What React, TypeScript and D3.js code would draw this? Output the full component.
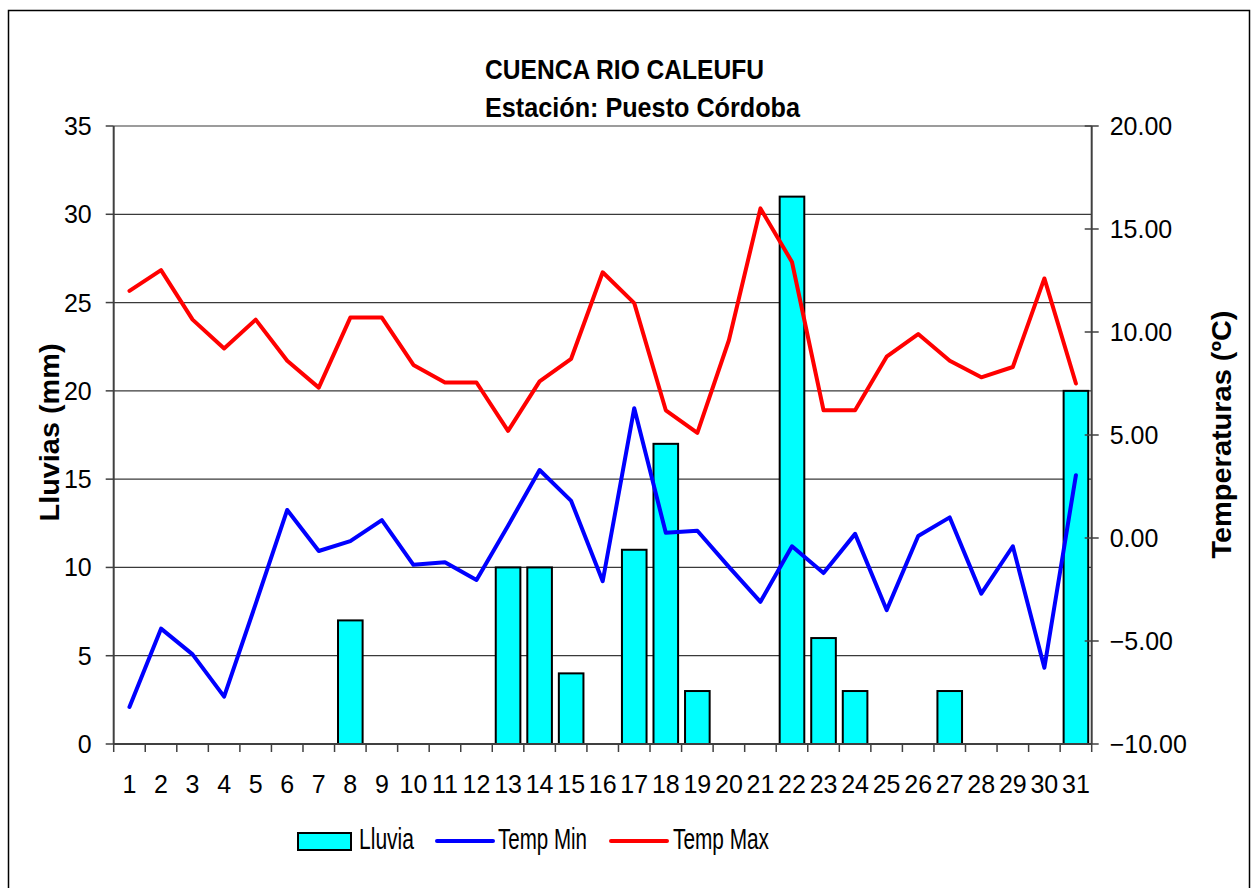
import React, { useEffect, useRef } from "react";
import * as d3 from "d3";

// Data
const dias = ["1","2","3","4","5","6","7","8","9","10","11","12","13","14","15","16","17","18","19","20","21","22","23","24","25","26","27","28","29","30","31"];
const lluvia = [0,0,0,0,0,0,0,7,0,0,0,0,10,10,4,0,11,17,3,0,0,31,6,3,0,0,3,0,0,0,20];
const tempMin = [-8.2,-4.4,-5.65,-7.7,-3.2,1.36,-0.63,-0.15,0.87,-1.3,-1.18,-2.04,0.6,3.3,1.8,-2.1,6.3,0.25,0.35,-1.4,-3.1,-0.4,-1.7,0.2,-3.5,0.1,1.0,-2.7,-0.4,-6.3,3.05];
const tempMax = [12.0,13.0,10.6,9.2,10.6,8.6,7.3,10.7,10.7,8.4,7.55,7.55,5.2,7.6,8.7,12.9,11.4,6.2,5.1,9.6,16.0,13.4,6.2,6.2,8.8,9.9,8.6,7.8,8.3,12.6,7.5];
const lluviaTicks = [0,5,10,15,20,25,30,35];
const tempTicks = [-10,-5,0,5,10,15,20];

const FONT = "'Liberation Sans', Arial, sans-serif";

const App = () => {
  const svgRef = useRef(null);

  useEffect(() => {
    const width = 1254;
    const height = 888;
    const m = { left: 113.7, right: 1091.7, top: 126, bottom: 744 };

    const svg = d3.select(svgRef.current);
    svg.selectAll("*").remove();

    svg.append("rect").attr("width", width).attr("height", height).attr("fill", "#fff");
    // chart frame (runs off the bottom edge)
    svg.append("rect")
      .attr("x", 8.5).attr("y", 10.5).attr("width", 1241).attr("height", 900)
      .attr("fill", "none").attr("stroke", "#000").attr("stroke-width", 1.5);

    // scales
    const x = d3.scaleBand().domain(dias).range([m.left, m.right]).paddingInner(0.22).paddingOuter(0.11);
    const xEdge = d3.scaleLinear().domain([0, dias.length]).range([m.left, m.right]);
    const yL = d3.scaleLinear().domain([0, 35]).range([m.bottom, m.top]);
    const yR = d3.scaleLinear().domain([-10, 20]).range([m.bottom, m.top]);
    const cx = (d) => x(d) + x.bandwidth() / 2;

    // titles
    svg.append("text").text("CUENCA RIO CALEUFU")
      .attr("x", 485).attr("y", 79).attr("font-family", FONT).attr("font-weight", "bold")
      .attr("font-size", 28).attr("textLength", 279).attr("lengthAdjust", "spacingAndGlyphs");
    svg.append("text").text("Estación: Puesto Córdoba")
      .attr("x", 485).attr("y", 117).attr("font-family", FONT).attr("font-weight", "bold")
      .attr("font-size", 28).attr("textLength", 315).attr("lengthAdjust", "spacingAndGlyphs");

    // gridlines
    svg.append("g").selectAll("line").data(lluviaTicks.filter((v) => v > 0)).join("line")
      .attr("x1", m.left).attr("x2", m.right)
      .attr("y1", (d) => yL(d)).attr("y2", (d) => yL(d))
      .attr("stroke", "#3a3a3a").attr("stroke-width", 1.2);

    // bars
    svg.append("g").selectAll("rect").data(lluvia.map((v, i) => ({ d: dias[i], v })).filter((r) => r.v > 0)).join("rect")
      .attr("x", (r) => x(r.d)).attr("width", x.bandwidth())
      .attr("y", (r) => yL(r.v)).attr("height", (r) => yL(0) - yL(r.v))
      .attr("fill", "#00ffff").attr("stroke", "#000").attr("stroke-width", 2);

    // axes
    const axisColor = "#404040";
    svg.append("line").attr("x1", m.left).attr("x2", m.left).attr("y1", m.top).attr("y2", m.bottom)
      .attr("stroke", axisColor).attr("stroke-width", 2);
    svg.append("line").attr("x1", m.right).attr("x2", m.right).attr("y1", m.top).attr("y2", m.bottom)
      .attr("stroke", axisColor).attr("stroke-width", 2);
    svg.append("line").attr("x1", m.left).attr("x2", m.right).attr("y1", m.bottom).attr("y2", m.bottom)
      .attr("stroke", axisColor).attr("stroke-width", 2);

    const gl = svg.append("g");
    gl.selectAll("line").data(lluviaTicks).join("line")
      .attr("x1", m.left - 8).attr("x2", m.left).attr("y1", (d) => yL(d)).attr("y2", (d) => yL(d))
      .attr("stroke", axisColor).attr("stroke-width", 1.5);
    gl.selectAll("text").data(lluviaTicks).join("text")
      .attr("x", m.left - 22).attr("y", (d) => yL(d)).attr("dy", "0.36em")
      .attr("text-anchor", "end").attr("font-family", FONT).attr("font-size", 25)
      .text((d) => d);

    const gr = svg.append("g");
    gr.selectAll("line").data(tempTicks).join("line")
      .attr("x1", m.right - 7).attr("x2", m.right + 7).attr("y1", (d) => yR(d)).attr("y2", (d) => yR(d))
      .attr("stroke", axisColor).attr("stroke-width", 1.5);
    gr.selectAll("text").data(tempTicks).join("text")
      .attr("x", m.right + 18).attr("y", (d) => yR(d)).attr("dy", "0.36em")
      .attr("text-anchor", "start").attr("font-family", FONT).attr("font-size", 25)
      .text((d) => d3.format(".2f")(d));

    const gx = svg.append("g");
    gx.selectAll("line").data(d3.range(dias.length + 1)).join("line")
      .attr("x1", (i) => xEdge(i)).attr("x2", (i) => xEdge(i)).attr("y1", m.bottom).attr("y2", m.bottom + 8)
      .attr("stroke", axisColor).attr("stroke-width", 1.5);
    gx.selectAll("text").data(dias).join("text")
      .attr("x", (d) => cx(d)).attr("y", 793)
      .attr("text-anchor", "middle").attr("font-family", FONT).attr("font-size", 25)
      .text((d) => d);

    // axis titles
    svg.append("text").text("Lluvias (mm)")
      .attr("transform", "translate(59,432.5) rotate(-90)")
      .attr("text-anchor", "middle").attr("font-family", FONT).attr("font-weight", "bold")
      .attr("font-size", 28).attr("textLength", 178).attr("lengthAdjust", "spacingAndGlyphs");
    svg.append("text").text("Temperaturas (ºC)")
      .attr("transform", "translate(1231,434.5) rotate(-90)")
      .attr("text-anchor", "middle").attr("font-family", FONT).attr("font-weight", "bold")
      .attr("font-size", 28).attr("textLength", 248).attr("lengthAdjust", "spacingAndGlyphs");

    // lines
    const line = d3.line().x((p) => cx(p[0])).y((p) => yR(p[1]));
    svg.append("path").datum(dias.map((d, i) => [d, tempMin[i]]))
      .attr("d", line).attr("fill", "none").attr("stroke", "#0000ff").attr("stroke-width", 4)
      .attr("stroke-linejoin", "round").attr("stroke-linecap", "round");
    svg.append("path").datum(dias.map((d, i) => [d, tempMax[i]]))
      .attr("d", line).attr("fill", "none").attr("stroke", "#ff0000").attr("stroke-width", 4)
      .attr("stroke-linejoin", "round").attr("stroke-linecap", "round");

    // legend
    const lg = svg.append("g").attr("font-family", FONT).attr("font-size", 29);
    lg.append("rect").attr("x", 298).attr("y", 833).attr("width", 53).attr("height", 17)
      .attr("fill", "#00ffff").attr("stroke", "#000").attr("stroke-width", 2);
    lg.append("text").text("Lluvia").attr("x", 359).attr("y", 849)
      .attr("textLength", 55).attr("lengthAdjust", "spacingAndGlyphs");
    lg.append("line").attr("x1", 437).attr("x2", 493).attr("y1", 841).attr("y2", 841)
      .attr("stroke", "#0000ff").attr("stroke-width", 4).attr("stroke-linecap", "round");
    lg.append("text").text("Temp Min").attr("x", 498).attr("y", 849)
      .attr("textLength", 89).attr("lengthAdjust", "spacingAndGlyphs");
    lg.append("line").attr("x1", 611).attr("x2", 667).attr("y1", 841).attr("y2", 841)
      .attr("stroke", "#ff0000").attr("stroke-width", 4).attr("stroke-linecap", "round");
    lg.append("text").text("Temp Max").attr("x", 673).attr("y", 849)
      .attr("textLength", 96).attr("lengthAdjust", "spacingAndGlyphs");
  }, []);

  return (
    <svg
      ref={svgRef}
      width={1254}
      height={888}
      style={{ position: "absolute", left: 0, top: 0, display: "block" }}
    ></svg>
  );
};

export default App;
